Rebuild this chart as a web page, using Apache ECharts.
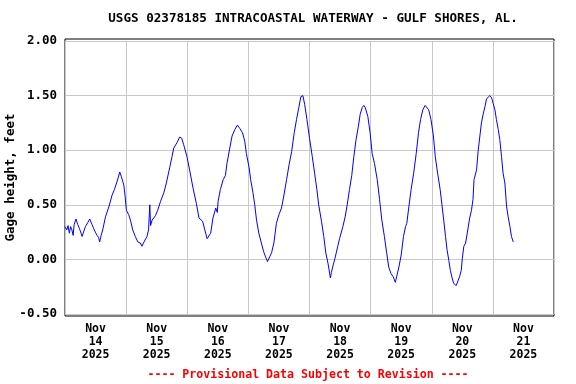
<!DOCTYPE html>
<html>
<head>
<meta charset="utf-8">
<script src="https://cdn.jsdelivr.net/npm/echarts@6/dist/echarts.min.js"></script>
<style>
html,body{margin:0;padding:0;background:#fff;}
#chart{width:576px;height:384px;}
</style>
</head>
<body>
<div id="chart"></div>
<script>
// Hours since Nov 14 2025 00:00
var hours = [0,0.7,1.2,1.7,2.2,2.7,3.2,3.6,4.3,5.0,5.7,6.3,6.7,7.3,8.0,9.0,9.7,10.6,11.3,11.9,12.6,13.2,13.6,14.2,14.9,15.9,17.2,18.5,19.4,20.4,21.5,22.1,23.1,23.6,24.1,25.0,25.7,26.6,27.6,28.6,29.6,30.2,30.8,31.5,32.2,32.8,33.3,33.6,34.2,35.5,36.4,37.5,38.8,39.8,41.1,42.0,42.7,44.0,45.0,45.8,46.6,47.9,49.0,50.3,51.6,52.6,54.0,54.9,55.8,56.4,57.2,58.1,59.2,59.8,60.1,61.0,62.1,63.0,63.6,64.7,65.6,66.7,67.7,68.6,69.7,70.6,71.2,72.3,72.9,73.8,74.5,75.2,76.1,77.1,78.0,78.8,79.5,80.1,81.1,82.0,83.0,84.0,85.0,85.9,87.0,88.0,89.0,90.0,90.9,91.8,92.6,93.4,94.1,95.0,96.0,97.1,98.0,98.9,99.6,100.7,101.6,102.4,103.3,104.2,104.6,105.1,106.0,107.1,107.8,108.3,109.1,110.0,110.8,111.7,112.6,113.4,114.3,115.2,115.9,116.7,117.3,117.9,118.9,119.8,120.6,121.5,122.6,123.5,124.4,125.4,126.3,127.1,128.0,128.9,129.7,130.2,131.1,132.0,132.9,133.7,134.2,135.0,135.9,136.9,137.9,138.8,139.6,140.5,141.4,142.0,142.8,143.7,144.6,145.4,146.3,147.3,148.0,148.7,149.4,150.0,150.7,151.3,152.0,152.6,153.6,154.1,154.9,155.6,156.0,156.6,157.3,158.0,158.9,159.6,160.2,160.6,161.6,162.2,162.9,163.5,164.2,164.9,165.5,166.2,166.8,167.5,168.1,168.8,169.4,170.1,170.7,171.4,172.0,172.7,173.4,174.0,174.7,175.3,176.0];
var gage = [0.30,0.27,0.31,0.24,0.30,0.27,0.22,0.32,0.37,0.32,0.28,0.24,0.21,0.21,0.30,0.34,0.37,0.32,0.28,0.25,0.22,0.20,0.16,0.22,0.28,0.39,0.48,0.59,0.64,0.71,0.80,0.76,0.68,0.58,0.45,0.41,0.36,0.27,0.21,0.16,0.15,0.12,0.15,0.16,0.21,0.27,0.50,0.31,0.36,0.40,0.45,0.53,0.61,0.70,0.84,0.94,1.02,1.07,1.12,1.11,1.05,0.94,0.81,0.65,0.51,0.38,0.35,0.27,0.19,0.19,0.24,0.38,0.47,0.43,0.53,0.64,0.73,0.77,0.88,1.02,1.13,1.19,1.23,1.20,1.16,1.08,0.97,0.84,0.73,0.61,0.50,0.36,0.24,0.15,0.07,0.02,-0.02,-0.01,0.06,0.15,0.33,0.41,0.47,0.58,0.73,0.87,0.99,1.16,1.28,1.39,1.49,1.50,1.42,1.28,1.11,0.94,0.79,0.64,0.50,0.35,0.21,0.06,-0.04,-0.17,-0.12,-0.07,0.01,0.12,0.19,0.18,0.30,0.39,0.50,0.64,0.77,0.94,1.10,1.22,1.33,1.39,1.41,1.39,1.31,1.16,0.97,0.88,0.73,0.55,0.36,0.21,0.06,-0.07,-0.13,-0.16,-0.21,-0.16,-0.07,0.04,0.21,0.30,0.33,0.48,0.64,0.79,0.97,1.16,1.28,1.37,1.41,1.42,1.37,1.28,1.14,0.94,0.79,0.64,0.50,0.36,0.21,0.09,-0.01,-0.10,-0.17,-0.22,-0.24,-0.23,-0.16,-0.10,0.01,0.12,0.15,0.25,0.38,0.45,0.55,0.73,0.82,0.99,1.13,1.25,1.33,1.40,1.47,1.48,1.50,1.48,1.43,1.37,1.28,1.19,1.10,0.94,0.79,0.70,0.48,0.39,0.30,0.21,0.16];
var dayLabels = ["Nov\n14\n2025","Nov\n15\n2025","Nov\n16\n2025","Nov\n17\n2025","Nov\n18\n2025","Nov\n19\n2025","Nov\n20\n2025","Nov\n21\n2025"];
var titleText = "USGS 02378185 INTRACOASTAL WATERWAY - GULF SHORES, AL.";
var footerText = "---- Provisional Data Subject to Revision ----";
var yName = "Gage height, feet";

var FONT = "'DejaVu Sans Mono', 'Liberation Mono', monospace";
var seriesData = hours.map(function (h, i) { return [h, gage[i]]; });

var chart = echarts.init(document.getElementById('chart'), null, {renderer: 'canvas'});
chart.setOption({
  animation: false,
  backgroundColor: '#ffffff',
  grid: [
    {left: 65, right: 22, top: 39, bottom: 68, show: true, borderColor: '#000', borderWidth: 1,
     backgroundColor: 'transparent', containLabel: false, outerBoundsMode: 'none'},
    {left: 65, right: 22, top: 41, bottom: 70, containLabel: false, outerBoundsMode: 'none'}
  ],
  xAxis: [
    {type: 'category', gridIndex: 0, data: dayLabels, boundaryGap: true,
     axisLine: {show: false}, axisTick: {show: false}, splitLine: {show: false},
     axisLabel: {color: '#000', fontFamily: FONT, fontWeight: 'bold', fontSize: 11.5, lineHeight: 13, margin: 7, interval: 0}},
    {type: 'value', gridIndex: 1, min: 0, max: 192, interval: 24,
     axisLine: {show: false}, axisTick: {show: false}, axisLabel: {show: false},
     splitLine: {show: true, lineStyle: {color: '#c8c8c8', width: 1}}}
  ],
  yAxis: [
    {type: 'value', gridIndex: 0, show: false, min: 0, max: 1},
    {type: 'value', gridIndex: 1, min: -0.5, max: 2.0, interval: 0.5,
     axisLine: {show: false}, axisTick: {show: false},
     axisLabel: {color: '#000', fontFamily: FONT, fontWeight: 'bold', fontSize: 12.5, margin: 8,
       formatter: function (v) { return v.toFixed(2); }},
     splitLine: {show: true, lineStyle: {color: '#c8c8c8', width: 1}},
     name: yName, nameLocation: 'middle', nameGap: 48, nameRotate: 90, nameMoveOverlap: false,
     nameTextStyle: {color: '#000', fontFamily: FONT, fontWeight: 'bold', fontSize: 12.5}}
  ],
  graphic: [
    {type: 'text', x: 313, y: 12, style: {text: titleText, textAlign: 'center', fill: '#000', font: 'bold 12.6px ' + FONT}},
    {type: 'text', x: 308, y: 369, style: {text: footerText, textAlign: 'center', fill: '#ff0000', font: 'bold 11.6px ' + FONT}}
  ],
  series: [
    {type: 'line', xAxisIndex: 1, yAxisIndex: 1, data: seriesData, showSymbol: false, symbol: 'none',
     lineStyle: {color: '#0000ff', width: 1}, silent: true}
  ]
});
</script>
</body>
</html>
